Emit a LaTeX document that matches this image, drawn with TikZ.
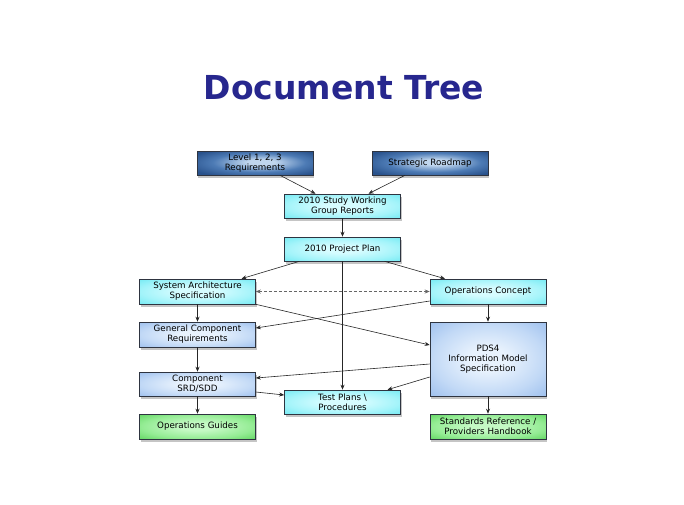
\documentclass[tikz,border=0pt]{standalone}
\usepackage{fontspec}
\setmainfont{DejaVu Sans}
\usetikzlibrary{arrows.meta,shadows,calc}
\definecolor{titleblue}{HTML}{27278E}
\definecolor{dkOut}{HTML}{29528C}
\definecolor{dkMid}{HTML}{4D7BB5}
\definecolor{dkIn}{HTML}{C0D6EE}
\definecolor{cyOut}{HTML}{74EAF3}
\definecolor{cyMid}{HTML}{A4F4FA}
\definecolor{cyIn}{HTML}{D6FCFF}
\definecolor{lbOut}{HTML}{9EC0EE}
\definecolor{lbMid}{HTML}{C2D9F6}
\definecolor{lbIn}{HTML}{E8F2FD}
\definecolor{grOut}{HTML}{62D662}
\definecolor{grMid}{HTML}{94EC94}
\definecolor{grIn}{HTML}{C4F9C4}
\definecolor{edge}{HTML}{2E3440}
\pgfdeclareradialshading{dkshade}{\pgfpoint{3bp}{2bp}}{color(0bp)=(dkIn); color(6bp)=(dkIn); color(20bp)=(dkMid); color(32bp)=(dkOut); color(50bp)=(dkOut)}
\pgfdeclareradialshading{cyshade}{\pgfpoint{0bp}{0bp}}{color(0bp)=(cyIn); color(8bp)=(cyIn); color(24bp)=(cyMid); color(36bp)=(cyOut); color(50bp)=(cyOut)}
\pgfdeclareradialshading{lbshade}{\pgfpoint{0bp}{0bp}}{color(0bp)=(lbIn); color(8bp)=(lbIn); color(24bp)=(lbMid); color(36bp)=(lbOut); color(50bp)=(lbOut)}
\pgfdeclareradialshading{grshade}{\pgfpoint{0bp}{0bp}}{color(0bp)=(grIn); color(8bp)=(grIn); color(24bp)=(grMid); color(36bp)=(grOut); color(50bp)=(grOut)}
\tikzset{
  box/.style={draw=edge, line width=0.6pt, align=center, inner sep=1pt,
    font=\fontsize{8.7}{10}\selectfont, text=black,
    drop shadow={opacity=0.45, shadow xshift=1.2pt, shadow yshift=-2.5pt}},
  darkbox/.style={box, shading=dkshade},
  cyanbox/.style={box, shading=cyshade},
  bluebox/.style={box, shading=lbshade},
  greenbox/.style={box, shading=grshade},
  wd/.style={minimum width=116pt},
  conn/.style={-{Stealth[length=5pt,width=4pt]}, line width=0.6pt, draw=black!85},
  dconn/.style={{Stealth[length=5pt,width=4pt]}-{Stealth[length=5pt,width=4pt]}, line width=0.6pt, draw=black!60, dashed, dash pattern=on 3pt off 2pt}
}
\begin{document}
\begin{tikzpicture}[x=1pt,y=-1pt]
\useasboundingbox[fill=white] (0,0) rectangle (684,504);
\node[font=\bfseries\fontsize{33}{38}\selectfont, text=titleblue] (title) at (344,88) {Document Tree};

\node[darkbox, wd, minimum height=24pt] (lvl) at (255,163) {Level 1, 2, 3\\Requirements};
\node[darkbox, wd, minimum height=24pt] (road) at (430,163) {Strategic Roadmap};
\node[cyanbox, wd, minimum height=24pt] (study) at (342.5,206) {2010 Study Working\\Group Reports};
\node[cyanbox, wd, minimum height=24pt] (plan) at (342.5,249) {2010 Project Plan};
\node[cyanbox, wd, minimum height=25pt] (sys) at (197.5,291.5) {System Architecture\\Specification};
\node[cyanbox, wd, minimum height=25pt] (ops) at (488,291.5) {Operations Concept};
\node[bluebox, wd, minimum height=25pt] (gen) at (197.5,334.5) {General Component\\Requirements};
\node[bluebox, wd, minimum height=74pt] (pds) at (488,359) {PDS4\\Information Model\\Specification};
\node[bluebox, wd, minimum height=24pt] (srd) at (197.5,384) {Component\\SRD/SDD};
\node[cyanbox, wd, minimum height=24pt] (test) at (342.5,402) {Test Plans \textbackslash\\Procedures};
\node[greenbox, wd, minimum height=25pt] (guide) at (197.5,426.5) {Operations Guides};
\node[greenbox, wd, minimum height=25pt] (std) at (488,426.5) {Standards Reference /\\Providers Handbook};

\draw[conn] ([xshift=25pt]lvl.south) -- ([xshift=-27pt]study.north);
\draw[conn] ([xshift=-25pt]road.south) -- ([xshift=26pt]study.north);
\draw[conn] (study.south) -- (plan.north);
\draw[conn] ([xshift=-43pt]plan.south) -- ([xshift=44pt]sys.north);
\draw[conn] ([xshift=42pt]plan.south) -- ([xshift=-43pt]ops.north);
\draw[conn] (plan.south) -- (test.north);
\draw[dconn] (sys.east) -- (ops.west);
\draw[conn] (sys.south) -- (gen.north);
\draw[conn] ([yshift=-9.5pt]ops.west) -- ([yshift=6.5pt]gen.east);
\draw[conn] (sys.south east) -- ([yshift=14pt]pds.west);
\draw[conn] (ops.south) -- (pds.north);
\draw[conn] (gen.south) -- (srd.north);
\draw[conn] ([yshift=-5pt]pds.west) -- ([yshift=6pt]srd.east);
\draw[conn] ([yshift=-18pt]pds.west) -- ([xshift=45pt]test.north);
\draw[conn] ([yshift=-8pt]srd.east) -- ([yshift=7pt]test.west);
\draw[conn] (srd.south) -- (guide.north);
\draw[conn] (pds.south) -- (std.north);
\end{tikzpicture}
\end{document}
